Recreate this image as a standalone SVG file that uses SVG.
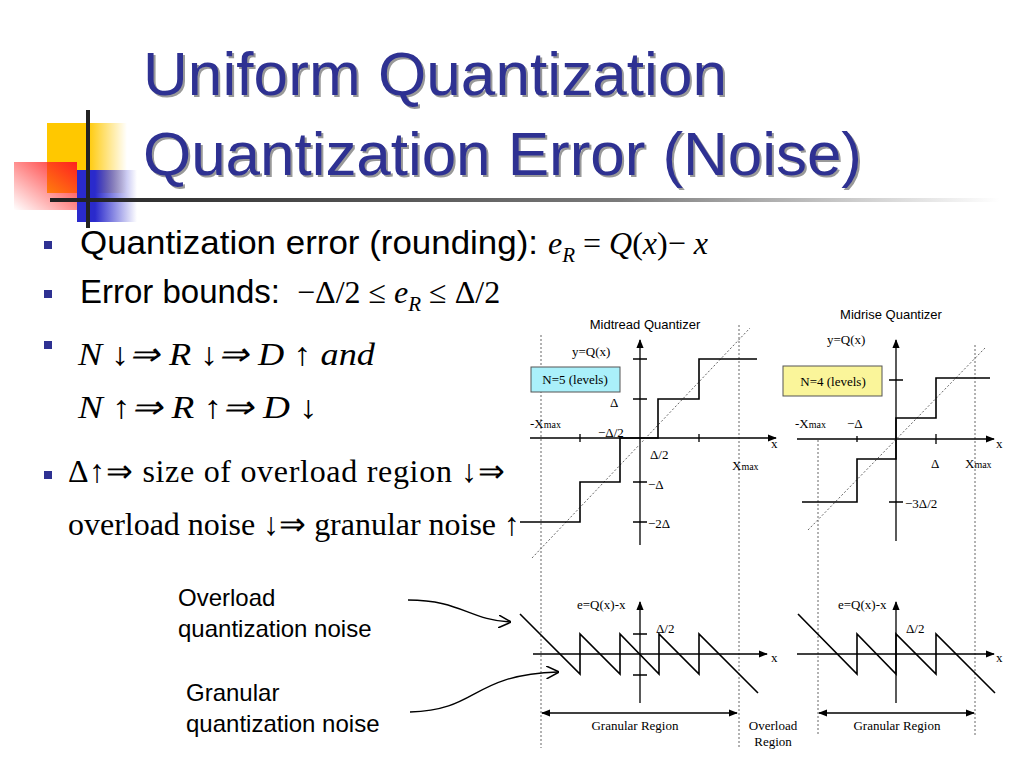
<svg xmlns="http://www.w3.org/2000/svg" width="1024" height="768" viewBox="0 0 1024 768">
<defs>
<linearGradient id="gy" x1="0" x2="1"><stop offset="0.5" stop-color="#FFC800"/><stop offset="1" stop-color="#FFC800" stop-opacity="0"/></linearGradient>
<linearGradient id="gr" x1="1" y1="0" x2="0" y2="1"><stop offset="0" stop-color="#FF2020"/><stop offset="1" stop-color="#FF2020" stop-opacity="0"/></linearGradient>
<linearGradient id="gb" x1="0" x2="1"><stop offset="0.3" stop-color="#2A2ACC"/><stop offset="1" stop-color="#2A2ACC" stop-opacity="0"/></linearGradient>
<linearGradient id="gl" x1="0" x2="1"><stop offset="0" stop-color="#222"/><stop offset="0.6" stop-color="#222" stop-opacity="0.6"/><stop offset="1" stop-color="#222" stop-opacity="0"/></linearGradient>
<marker id="ah" viewBox="0 0 10 10" refX="9" refY="5" markerWidth="7" markerHeight="7" orient="auto-start-reverse"><path d="M0,1 L10,5 L0,9 z" fill="#000"/></marker>
<marker id="oa" viewBox="0 0 10 10" refX="9" refY="5" markerWidth="10" markerHeight="10" orient="auto"><path d="M0,0 L10,5 L0,10" fill="none" stroke="#000" stroke-width="1.2"/></marker>
</defs>
<style>
.t{font-family:"Liberation Sans",Arial,sans-serif;font-size:62px;fill:#2E3192}
.sh{fill:#999}
.s{font-family:"Liberation Sans",Arial,sans-serif;font-size:33px;fill:#000}
.m{font-family:"Liberation Serif","Times New Roman",serif;font-size:32px;fill:#000}
.mi{font-family:"Liberation Serif","Times New Roman",serif;font-size:32px;font-style:italic;fill:#000}
.sub{font-size:21px}
.g{font-family:"Liberation Serif","Times New Roman",serif;font-size:13px;fill:#000}
.h{font-family:"Liberation Sans",Arial,sans-serif;font-size:13px;fill:#000}
.n{font-family:"Liberation Sans",Arial,sans-serif;font-size:24px;fill:#000}
.ax{stroke:#000;stroke-width:1.3;fill:none}
.st{stroke:#000;stroke-width:1.6;fill:none}
.dt{stroke:#666;stroke-width:1;stroke-dasharray:2,2;fill:none}
.bl{fill:#2E3192}
</style>
<rect width="1024" height="768" fill="#fff"/>
<g id="decor">
<rect x="47" y="123" width="80" height="70" fill="url(#gy)"/>
<rect x="77" y="170" width="60" height="52" fill="url(#gb)"/>
<rect x="14" y="162" width="63" height="48" fill="url(#gr)"/>
<rect x="86" y="110" width="4" height="118" fill="#222"/>
<rect x="50" y="198" width="950" height="4" fill="url(#gl)"/>
</g>
<g id="title">
<text class="t sh" x="145" y="97" textLength="584">Uniform Quantization</text>
<text class="t" x="143" y="95" textLength="584">Uniform Quantization</text>
<text class="t sh" x="145" y="177" textLength="719">Quantization Error (Noise)</text>
<text class="t" x="143" y="175" textLength="719">Quantization Error (Noise)</text>
</g>
<g id="bullets">
<rect class="bl" x="44" y="241" width="8" height="8"/>
<rect class="bl" x="44" y="290" width="8" height="8"/>
<rect class="bl" x="44" y="341" width="8" height="8"/>
<rect class="bl" x="44" y="471" width="8" height="8"/>
<text class="s" x="80" y="254" textLength="458" lengthAdjust="spacingAndGlyphs">Quantization error (rounding):</text>
<text x="548" y="254"><tspan class="mi">e</tspan><tspan class="mi sub" dy="8">R</tspan><tspan class="m" dy="-8"> = </tspan><tspan class="mi">Q</tspan><tspan class="m">(</tspan><tspan class="mi">x</tspan><tspan class="m">)</tspan><tspan class="m">− </tspan><tspan class="mi">x</tspan></text>
<text class="s" x="80" y="303">Error bounds:</text>
<text x="297" y="303"><tspan class="m">−Δ/2 ≤ </tspan><tspan class="mi">e</tspan><tspan class="mi sub" dy="8">R</tspan><tspan class="m" dy="-8"> ≤ Δ/2</tspan></text>
<text class="mi" x="78" y="365" textLength="297" lengthAdjust="spacingAndGlyphs">N ↓⇒ R ↓⇒ D ↑ and</text>
<text class="mi" x="78" y="418" textLength="240" lengthAdjust="spacingAndGlyphs">N ↑⇒ R ↑⇒ D ↓</text>
<text class="m" x="68" y="482" textLength="437" font-size="28">Δ↑⇒ size of overload region ↓⇒</text>
<text class="m" x="68" y="535" textLength="452" font-size="28">overload noise ↓⇒ granular  noise ↑</text>
</g>
<g id="midtread">
<text class="h" x="645" y="329" text-anchor="middle">Midtread Quantizer</text>
<line class="dt" x1="541" y1="335" x2="541" y2="748"/>
<line class="dt" x1="739" y1="325" x2="739" y2="748"/>
<line class="ax" x1="530" y1="438" x2="776" y2="438" marker-end="url(#ah)"/>
<line class="ax" x1="640" y1="545" x2="640" y2="340" marker-end="url(#ah)"/>
<path class="ax" d="M633,359H647M633,399H647M633,482H647M633,522H647M580,434V442M699,434V442"/>
<line class="dt" x1="532" y1="558" x2="750" y2="328"/>
<path class="st" d="M520,522H580V482H620V438H658V399H699V359H757"/>
<rect x="531" y="367" width="89" height="25" fill="#AAF0FA" stroke="#555"/>
<text class="g" x="575" y="384" text-anchor="middle">N=5 (levels)</text>
<text class="g" x="572" y="356">y=Q(x)</text>
<text class="g" x="610" y="407">Δ</text>
<text class="g" x="530" y="428">-X<tspan font-size="10">max</tspan></text>
<text class="g" x="598" y="437">−Δ/2</text>
<text class="g" x="650" y="459">Δ/2</text>
<text class="g" x="732" y="470">X<tspan font-size="10">max</tspan></text>
<text class="g" x="648" y="489">−Δ</text>
<text class="g" x="648" y="528">−2Δ</text>
<text class="g" x="771" y="448">x</text>
</g>
<g id="midrise">
<text class="h" x="891" y="319" text-anchor="middle">Midrise Quantizer</text>
<line class="dt" x1="818" y1="440" x2="818" y2="735"/>
<line class="dt" x1="975" y1="345" x2="975" y2="735"/>
<line class="ax" x1="797" y1="439" x2="994" y2="439" marker-end="url(#ah)"/>
<line class="ax" x1="896" y1="541" x2="896" y2="340" marker-end="url(#ah)"/>
<path class="ax" d="M889,380H903M889,502H903M857,436V442M936,434V444"/>
<line class="dt" x1="808" y1="530" x2="985" y2="348"/>
<path class="st" d="M802,502H857V459H896V418H936V378H990"/>
<rect x="783" y="366" width="99" height="30" fill="#FAF59A" stroke="#555"/>
<text class="g" x="833" y="386" text-anchor="middle">N=4 (levels)</text>
<text class="g" x="827" y="344">y=Q(x)</text>
<text class="g" x="795" y="428">-X<tspan font-size="10">max</tspan></text>
<text class="g" x="847" y="428">−Δ</text>
<text class="g" x="931" y="468">Δ</text>
<text class="g" x="965" y="468">X<tspan font-size="10">max</tspan></text>
<text class="g" x="905" y="508">−3Δ/2</text>
<text class="g" x="996" y="448">x</text>
</g>
<g id="error-midtread">
<line class="ax" x1="533" y1="654" x2="767" y2="654" marker-end="url(#ah)"/>
<line class="ax" x1="640" y1="703" x2="640" y2="602" marker-end="url(#ah)"/>
<path class="ax" d="M633,634H647M633,675H647"/>
<path class="st" d="M520,614L580,674V634L620,674V634L659,674V634L699,674V634L758,693"/>
<text class="g" x="577" y="609">e=Q(x)-x</text>
<text class="g" x="656" y="633">Δ/2</text>
<text class="g" x="771" y="662">x</text>
<line class="ax" x1="542" y1="713" x2="737" y2="713" marker-start="url(#ah)" marker-end="url(#ah)"/>
<text class="g" x="635" y="730" text-anchor="middle">Granular  Region</text>
<text class="g" x="773" y="730" text-anchor="middle">Overload</text>
<text class="g" x="773" y="746" text-anchor="middle">Region</text>
</g>
<g id="error-midrise">
<line class="ax" x1="797" y1="654" x2="994" y2="654" marker-end="url(#ah)"/>
<line class="ax" x1="896" y1="703" x2="896" y2="602" marker-end="url(#ah)"/>
<path class="st" d="M798,614L857,674V634L896,674V634L936,674V634L995,693"/>
<text class="g" x="838" y="609">e=Q(x)-x</text>
<text class="g" x="906" y="633">Δ/2</text>
<text class="g" x="996" y="662">x</text>
<line class="ax" x1="819" y1="713" x2="974" y2="713" marker-start="url(#ah)" marker-end="url(#ah)"/>
<text class="g" x="897" y="730" text-anchor="middle">Granular  Region</text>
</g>
<g id="notes">
<text class="n" x="178" y="606">Overload</text>
<text class="n" x="178" y="637">quantization noise</text>
<text class="n" x="186" y="701">Granular</text>
<text class="n" x="186" y="732">quantization noise</text>
</g>
<g id="connectors">
<path class="ax" d="M408,600C460,600 470,620 510,622" marker-end="url(#oa)"/>
<path class="ax" d="M410,712C480,710 470,675 558,672" marker-end="url(#oa)"/>
</g>
</svg>
